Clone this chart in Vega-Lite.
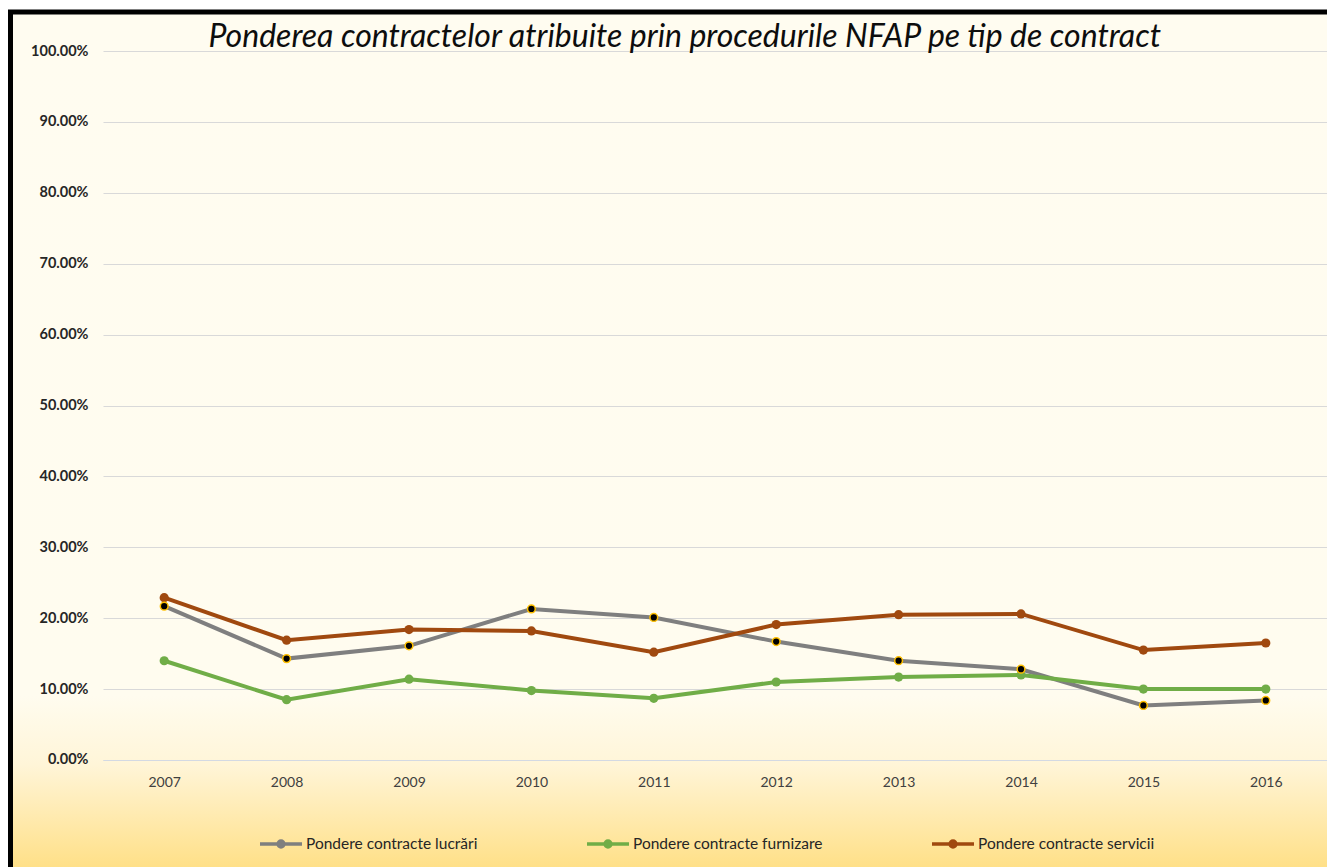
{
  "$schema": "https://vega.github.io/schema/vega-lite/v6.json",
  "width": 1327,
  "height": 867,
  "autosize": {"type": "fit", "contains": "padding"},
  "padding": {"left": 10.5, "top": 12, "right": 0, "bottom": 0},
  "background": "#FFFFFF",
  "title": {
    "text": "Ponderea contractelor atribuite prin procedurile NFAP pe tip de contract",
    "font": "Lato",
    "fontStyle": "italic",
    "fontWeight": "normal",
    "fontSize": 32,
    "color": "#0D0D0D",
    "anchor": "middle",
    "offset": -42,
    "dx": 16
  },
  "config": {
    "view": {
      "fill": {
        "gradient": "linear",
        "x1": 0, "y1": 0, "x2": 0, "y2": 1,
        "stops": [
          {"offset": 0, "color": "#FFFCF0"},
          {"offset": 0.8, "color": "#FFFCEF"},
          {"offset": 0.88, "color": "#FFF5D8"},
          {"offset": 1, "color": "#FFE088"}
        ]
      },
      "stroke": "#000000",
      "strokeWidth": 5,
      "strokeDash": [1316.5, 2171.5, 855]
    }
  },
  "data": {
    "values": [
      {"year": "2007", "series": "Pondere  contracte lucrări", "value": 0.217},
      {"year": "2008", "series": "Pondere  contracte lucrări", "value": 0.143},
      {"year": "2009", "series": "Pondere  contracte lucrări", "value": 0.161},
      {"year": "2010", "series": "Pondere  contracte lucrări", "value": 0.213},
      {"year": "2011", "series": "Pondere  contracte lucrări", "value": 0.201},
      {"year": "2012", "series": "Pondere  contracte lucrări", "value": 0.167},
      {"year": "2013", "series": "Pondere  contracte lucrări", "value": 0.140},
      {"year": "2014", "series": "Pondere  contracte lucrări", "value": 0.128},
      {"year": "2015", "series": "Pondere  contracte lucrări", "value": 0.077},
      {"year": "2016", "series": "Pondere  contracte lucrări", "value": 0.084},
      {"year": "2007", "series": "Pondere  contracte furnizare", "value": 0.140},
      {"year": "2008", "series": "Pondere  contracte furnizare", "value": 0.085},
      {"year": "2009", "series": "Pondere  contracte furnizare", "value": 0.114},
      {"year": "2010", "series": "Pondere  contracte furnizare", "value": 0.098},
      {"year": "2011", "series": "Pondere  contracte furnizare", "value": 0.087},
      {"year": "2012", "series": "Pondere  contracte furnizare", "value": 0.110},
      {"year": "2013", "series": "Pondere  contracte furnizare", "value": 0.117},
      {"year": "2014", "series": "Pondere  contracte furnizare", "value": 0.120},
      {"year": "2015", "series": "Pondere  contracte furnizare", "value": 0.100},
      {"year": "2016", "series": "Pondere  contracte furnizare", "value": 0.100},
      {"year": "2007", "series": "Pondere  contracte servicii", "value": 0.229},
      {"year": "2008", "series": "Pondere  contracte servicii", "value": 0.169},
      {"year": "2009", "series": "Pondere  contracte servicii", "value": 0.184},
      {"year": "2010", "series": "Pondere  contracte servicii", "value": 0.182},
      {"year": "2011", "series": "Pondere  contracte servicii", "value": 0.152},
      {"year": "2012", "series": "Pondere  contracte servicii", "value": 0.191},
      {"year": "2013", "series": "Pondere  contracte servicii", "value": 0.205},
      {"year": "2014", "series": "Pondere  contracte servicii", "value": 0.206},
      {"year": "2015", "series": "Pondere  contracte servicii", "value": 0.155},
      {"year": "2016", "series": "Pondere  contracte servicii", "value": 0.165}
    ]
  },
  "encoding": {
    "x": {
      "field": "year",
      "type": "ordinal",
      "scale": {"type": "point", "padding": 0.5, "range": [92.5, 1316.5]},
      "axis": {
        "title": null,
        "orient": "bottom",
        "offset": -107,
        "grid": false,
        "domain": true,
        "domainColor": "#D3D9E3",
        "domainWidth": 1,
        "ticks": false,
        "tickSize": 0,
        "labelAngle": 0,
        "labelPadding": 15,
        "labelFont": "Lato",
        "labelFontSize": 14,
        "labelColor": "#404040"
      }
    },
    "y": {
      "field": "value",
      "type": "quantitative",
      "scale": {"domain": [-0.15092, 1.05501], "nice": false, "zero": false},
      "axis": {
        "title": null,
        "orient": "left",
        "offset": -92.5,
        "values": [0, 0.1, 0.2, 0.3, 0.4, 0.5, 0.6, 0.7, 0.8, 0.9, 1.0],
        "format": ".2%",
        "domain": false,
        "ticks": false,
        "tickSize": 0,
        "labelPadding": 15,
        "labelFont": "Lato",
        "labelFontWeight": "bold",
        "labelFontSize": 14.5,
        "labelColor": "#262626",
        "grid": true,
        "gridColor": "#D9D9D9",
        "gridWidth": 1
      }
    }
  },
  "layer": [
    {
      "mark": {"type": "line", "strokeWidth": 4},
      "encoding": {
        "color": {
          "field": "series",
          "type": "nominal",
          "scale": {
            "domain": ["Pondere  contracte lucrări", "Pondere  contracte furnizare", "Pondere  contracte servicii"],
            "range": ["#7F7F7F", "#70AD47", "#A0490F"]
          },
          "sort": null,
          "legend": {
            "title": null,
            "orient": "none",
            "legendX": 247.5,
            "legendY": 809,
            "direction": "horizontal",
            "padding": 0,
            "columnPadding": 98,
            "symbolType": "M-1,0L1,0M0.14,0A0.14,0.14,0,1,1,-0.14,0A0.14,0.14,0,1,1,0.14,0",
            "symbolSize": 1764,
            "symbolStrokeWidth": 3.5,
            "labelOffset": 2,
            "labelFont": "Lato",
            "labelFontSize": 15.5,
            "labelColor": "#262626",
            "labelLimit": 400,
            "encode": {
              "symbols": {
                "update": {
                  "fill": {"signal": "datum.value === 'Pondere  contracte lucrări' ? '#000000' : scale('color', datum.value)"},
                  "stroke": {"signal": "scale('color', datum.value)"},
                  "opacity": {"value": 1}
                }
              }
            }
          }
        }
      }
    },
    {
      "transform": [{"filter": "datum.series !== 'Pondere  contracte lucrări'"}],
      "mark": {"type": "circle", "size": 85, "opacity": 1},
      "encoding": {
        "fill": {
          "field": "series",
          "type": "nominal",
          "scale": {
            "domain": ["Pondere  contracte lucrări", "Pondere  contracte furnizare", "Pondere  contracte servicii"],
            "range": ["#7F7F7F", "#70AD47", "#A0490F"]
          },
          "legend": null
        }
      }
    },
    {
      "transform": [{"filter": "datum.series === 'Pondere  contracte lucrări'"}],
      "mark": {"type": "point", "shape": "circle", "filled": true, "size": 60, "fill": "#000000", "stroke": "#FFC000", "strokeWidth": 1.5, "opacity": 1}
    }
  ]
}
